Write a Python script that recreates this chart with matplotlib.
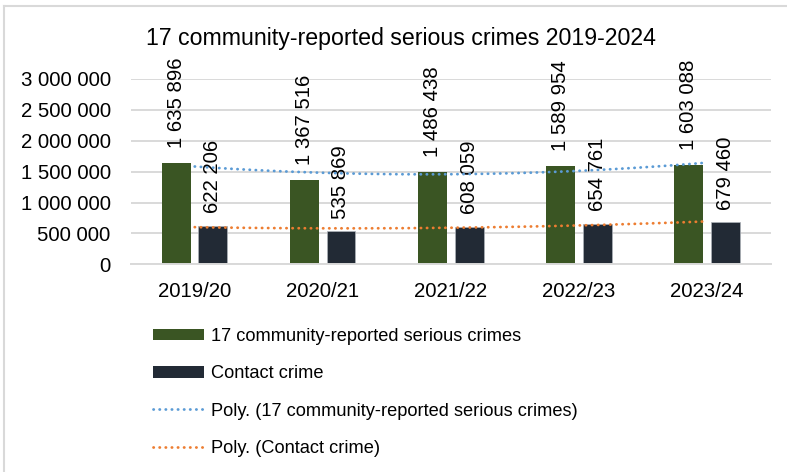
import numpy as np
import matplotlib
matplotlib.use("Agg")
import matplotlib.pyplot as plt
from matplotlib.lines import Line2D
from matplotlib.patches import Patch

plt.rcParams["font.family"] = ["Liberation Sans", "DejaVu Sans"]

years = ["2019/20", "2020/21", "2021/22", "2022/23", "2023/24"]
serious = [1635896, 1367516, 1486438, 1589954, 1603088]
contact = [622206, 535869, 608059, 654761, 679460]
yticks = [0, 500000, 1000000, 1500000, 2000000, 2500000, 3000000]

GREEN = "#3A5523"
NAVY = "#222A35"
BLUE = "#5B9BD5"
ORANGE = "#ED7D31"
GRID = "#D9D9D9"
FS = 14.7
FS_TITLE = 16.7
FS_LEG = 13.15


def fmt_space(v):
    return f"{v:,}".replace(",", " ")


fig = plt.figure(figsize=(7.87, 4.72), dpi=100)
W, H = 787, 472
ax = fig.add_axes([130.7 / W, (H - 264.3) / H, 640.3 / W, 185.3 / H])

x = np.arange(len(years))
bw = 0.226
off = 0.142
ax.bar(x - off, serious, bw, color=GREEN, zorder=2)
ax.bar(x + off, contact, bw, color=NAVY, edgecolor="#AEB3BA", linewidth=0.5, zorder=2)

# bar value labels, rotated and sitting above each bar
for xi, v in zip(x - off, serious):
    ax.annotate(fmt_space(v), (xi, v), xytext=(0, 11), textcoords="offset points",
                rotation=90, ha="center", va="bottom", fontsize=FS, annotation_clip=False)
for xi, v in zip(x + off, contact):
    ax.annotate(fmt_space(v), (xi, v), xytext=(0, 9), textcoords="offset points",
                rotation=90, ha="center", va="bottom", fontsize=FS, annotation_clip=False)

# 2nd-order polynomial trend lines over the category positions
xs = np.linspace(0, len(years) - 1, 100)
dots = dict(linestyle=(0, (0.1, 2.1)), dash_capstyle="round", linewidth=2.0, zorder=3)
ax.plot(xs, np.polyval(np.polyfit(x, serious, 2), xs), color=BLUE, **dots)
ax.plot(xs, np.polyval(np.polyfit(x, contact, 2), xs), color=ORANGE, **dots)

ax.set_xlim(-0.5, len(years) - 0.5)
ax.set_ylim(0, 3000000)
ax.set_yticks(yticks)
ax.set_yticklabels([fmt_space(v) for v in yticks])
ax.set_xticks(x)
ax.set_xticklabels(years)
ax.tick_params(axis="both", length=0, labelsize=FS)
ax.tick_params(axis="y", pad=14.4)
ax.tick_params(axis="x", pad=13)
ax.grid(axis="y", color=GRID, linewidth=1.4, zorder=0)
ax.set_axisbelow(True)
for s in ["top", "right", "left"]:
    ax.spines[s].set_visible(False)
ax.spines["bottom"].set_color(GRID)
ax.spines["bottom"].set_linewidth(1.4)

fig.text(401 / W, (H - 38.5) / H, "17 community-reported serious crimes 2019-2024",
         ha="center", va="center", fontsize=FS_TITLE)

handles = [
    Patch(facecolor=GREEN),
    Patch(facecolor=NAVY),
    Line2D([], [], color=BLUE, **dots),
    Line2D([], [], color=ORANGE, **dots),
]
labels = [
    "17 community-reported serious crimes",
    "Contact crime",
    "Poly. (17 community-reported serious crimes)",
    "Poly. (Contact crime)",
]
fig.legend(handles, labels, loc="upper left", bbox_to_anchor=(153 / W, (H - 328) / H),
           frameon=False, fontsize=FS_LEG, handlelength=2.8, handleheight=0.59,
           handletextpad=0.38, labelspacing=1.11, borderpad=0, borderaxespad=0)

# chart-area border (top and left edges visible)
fig.add_artist(Line2D([3.5 / W, 3.5 / W], [0, (H - 6) / H], color=GRID, lw=1.5,
                      transform=fig.transFigure))
fig.add_artist(Line2D([3.5 / W, 1], [(H - 6) / H, (H - 6) / H], color=GRID, lw=1.5,
                      transform=fig.transFigure))

fig.savefig("out.png", dpi=100)
